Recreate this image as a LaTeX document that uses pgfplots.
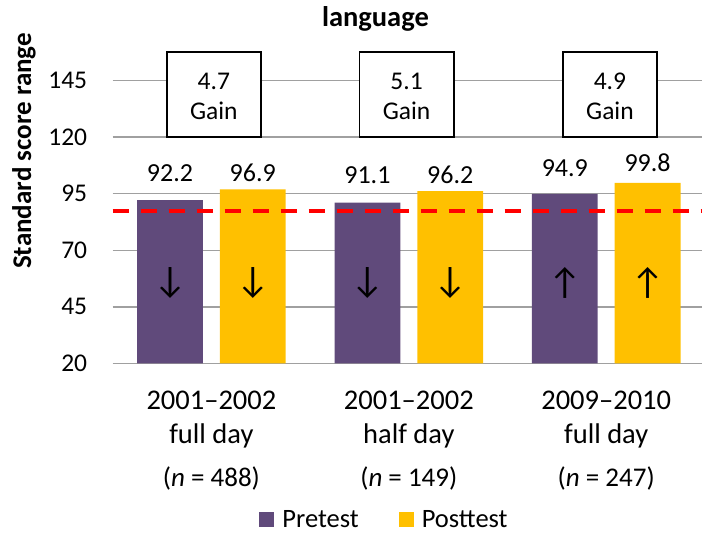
\documentclass[border=0pt]{standalone}
\usepackage{pgfplots}
\pgfplotsset{compat=1.18}
\usepackage{fontspec}
\setmainfont{Carlito}
\definecolor{pre}{HTML}{604A7B}
\definecolor{post}{HTML}{FFC000}
\definecolor{gridc}{HTML}{A0A0A0}
\begin{document}
\begin{tikzpicture}[x=1pt,y=1pt]
\begin{axis}[
  at={(112.7pt,169.7pt)}, anchor=south west,
  scale only axis, width=592.2pt, height=316.5pt,
  xmin=-0.5, xmax=2.5, ymin=20, ymax=160,
  ybar=17pt, bar width=65.8pt,
  axis line style={draw=none},
  major tick length=0pt,
  ytick={20,45,70,95,120,145},
  ymajorgrids, grid style={gridc, line width=1.5pt},
  xtick={0,1,2},
  xticklabels={{2001--2002\\full day\\[10pt]{\fontsize{27}{33}\selectfont(\textit{n} = 488)}},
               {2001--2002\\half day\\[10pt]{\fontsize{27}{33}\selectfont(\textit{n} = 149)}},
               {2009--2010\\full day\\[10pt]{\fontsize{27}{33}\selectfont(\textit{n} = 247)}}},
  xticklabel style={font=\fontsize{28.5}{33.3}\selectfont, align=center, anchor=north, inner sep=0pt, yshift=-28pt},
  yticklabel={\pgfmathprintnumber{\tick}},
  yticklabel shift=25.4pt,
  y tick label style={font=\fontsize{25.5}{30}\selectfont, inner sep=0pt},
  /pgf/number format/assume math mode=true,
  title={language},
  title style={font=\bfseries\fontsize{28.5}{34}\selectfont, at={(0.4436,1.0436)}, anchor=base, yshift=0pt},
  ylabel={Standard score range},
  ylabel style={font=\bfseries\fontsize{27}{32}\selectfont, at={(axis description cs:-0.1498,0.671)}, anchor=center},
  legend style={draw=none, fill=none, at={(0.459,-0.495)}, anchor=center, legend columns=2,
    font=\fontsize{26.5}{30}\selectfont,
    /tikz/every odd column/.append style={column sep=6pt},
    /tikz/every even column/.append style={column sep=38pt}},
  legend image code/.code={\fill[#1] (0pt,-7pt) rectangle (15pt,8pt);},
  clip mode=individual,
]
\addplot[fill=pre, draw=none] coordinates {(0,92.2) (1,91.1) (2,94.9)};
\addplot[fill=post, draw=none] coordinates {(0,96.9) (1,96.2) (2,99.8)};
\legend{Pretest, Posttest}
\addplot[sharp plot, bar shift=0pt, red, line width=3.5pt, dash pattern=on 16pt off 12pt, forget plot] coordinates {(-0.5,87.3) (2.5,87.3)};
% gain boxes
\draw[black, line width=1.5pt, fill=white] (axis cs:-0.226,120) rectangle (axis cs:0.251,157.8);
\draw[black, line width=1.5pt, fill=white] (axis cs:0.749,120) rectangle (axis cs:1.229,157.8);
\draw[black, line width=1.5pt, fill=white] (axis cs:1.780,120) rectangle (axis cs:2.258,157.8);
\begin{scope}[every node/.style={font=\fontsize{25.5}{30}\selectfont, anchor=base, inner sep=0pt}]
\node at (axis cs:0.0125,141.2) {4.7};
\node at (axis cs:0.0125,127.65) {Gain};
\node at (axis cs:0.989,141.2) {5.1};
\node at (axis cs:0.989,127.65) {Gain};
\node at (axis cs:2.019,141.2) {4.9};
\node at (axis cs:2.019,127.65) {Gain};
\end{scope}
% data labels
\begin{scope}[every node/.style={font=\fontsize{26}{30}\selectfont, anchor=base, inner sep=0pt}]
\node at (axis cs:-0.2097,100.3) {92.2};
\node at (axis cs:0.2097,100.3) {96.9};
\node at (axis cs:0.7903,99.6) {91.1};
\node at (axis cs:1.2097,99.6) {96.2};
\node at (axis cs:1.7903,102.5) {94.9};
\node at (axis cs:2.2097,104.75) {99.8};
\end{scope}
% arrows
\begin{scope}[every node/.style={font=\fontsize{37}{40}\selectfont, anchor=center, inner sep=0pt}]
\node at (axis cs:-0.2097,55.5) {↓};
\node at (axis cs:0.2097,55.5) {↓};
\node at (axis cs:0.7903,55.5) {↓};
\node at (axis cs:1.2097,55.5) {↓};
\node at (axis cs:1.7903,55.5) {↑};
\node at (axis cs:2.2097,55.5) {↑};
\end{scope}
\end{axis}
\pgfresetboundingbox
\useasboundingbox (0,0) rectangle (702pt,533pt);
\end{tikzpicture}
\end{document}
